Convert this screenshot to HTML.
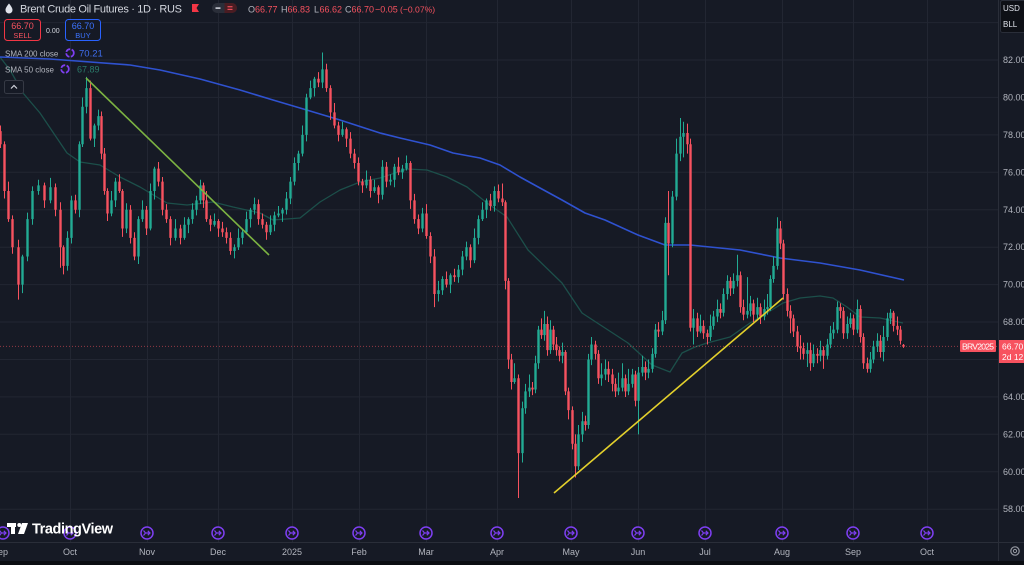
<!DOCTYPE html>
<html><head><meta charset="utf-8">
<style>
html,body{margin:0;padding:0;background:#161a25;width:1024px;height:565px;overflow:hidden}
svg{display:block}
text{font-family:"Liberation Sans",sans-serif}
</style></head>
<body>
<svg width="1024" height="565" viewBox="0 0 1024 565" xmlns="http://www.w3.org/2000/svg">
<defs>
<clipPath id="cp"><rect x="0" y="0" width="998" height="542"/></clipPath>
<g id="evi"><circle cx="0" cy="0" r="6" fill="#161a25" stroke="#7e3ff2" stroke-width="1.5"/><path d="M-3.5 -2.5 L-1.5 0 L-3.5 2.5 M-1 0 H3 M0.8 -2.2 L3 0 L0.8 2.2" fill="none" stroke="#7e3ff2" stroke-width="1.2"/></g>
</defs>
<rect x="0" y="0" width="1024" height="565" fill="#161a25"/>
<g stroke="#222632" stroke-width="1">
<line x1="0" y1="22.6" x2="998" y2="22.6"/><line x1="0" y1="60" x2="998" y2="60"/><line x1="0" y1="97.4" x2="998" y2="97.4"/><line x1="0" y1="134.9" x2="998" y2="134.9"/><line x1="0" y1="172.3" x2="998" y2="172.3"/><line x1="0" y1="209.8" x2="998" y2="209.8"/><line x1="0" y1="247.2" x2="998" y2="247.2"/><line x1="0" y1="284.6" x2="998" y2="284.6"/><line x1="0" y1="322" x2="998" y2="322"/><line x1="0" y1="359.5" x2="998" y2="359.5"/><line x1="0" y1="396.9" x2="998" y2="396.9"/><line x1="0" y1="434.3" x2="998" y2="434.3"/><line x1="0" y1="471.8" x2="998" y2="471.8"/><line x1="0" y1="509.2" x2="998" y2="509.2"/>
<line x1="70.5" y1="0" x2="70.5" y2="542"/><line x1="147.5" y1="0" x2="147.5" y2="542"/><line x1="218.5" y1="0" x2="218.5" y2="542"/><line x1="292.5" y1="0" x2="292.5" y2="542"/><line x1="359.5" y1="0" x2="359.5" y2="542"/><line x1="426.5" y1="0" x2="426.5" y2="542"/><line x1="497.5" y1="0" x2="497.5" y2="542"/><line x1="571.5" y1="0" x2="571.5" y2="542"/><line x1="638.5" y1="0" x2="638.5" y2="542"/><line x1="705.5" y1="0" x2="705.5" y2="542"/><line x1="782.5" y1="0" x2="782.5" y2="542"/><line x1="853.5" y1="0" x2="853.5" y2="542"/><line x1="927.5" y1="0" x2="927.5" y2="542"/>
</g>
<g clip-path="url(#cp)">
<polyline fill="none" stroke="#1c4f4a" stroke-width="1.3" stroke-linejoin="round" points="0,57 10,70 23,93 40,113 67,153 80,162 100,165 120,177 140,187 167,203 187,205 213,202 233,207 260,213 273,220 300,218 320,202 340,190 360,182 380,178 407,169 427,170 447,177 467,187 487,203 507,217 528,250 562,283 582,313 605,328 628,343 652,365 670,372 682,353 695,347 707,343 730,337 750,323 767,313 783,303 800,298 820,296 833,298 847,307 860,317 880,318 903,323"/>
<polyline fill="none" stroke="#2f52d0" stroke-width="1.6" stroke-linejoin="round" points="0,57 50,59 130,65 160,70 200,79 240,90 273,100 300,108 340,120 380,133 400,138 430,145 453,153 480,158 500,165 520,177 540,188 562,200 585,213 605,220 638,235 665,245 690,245 740,250 780,258 820,263 860,270 904,280"/>
<line x1="0" y1="346.4" x2="998" y2="346.4" stroke="#f7525f" stroke-opacity="0.55" stroke-width="1" stroke-dasharray="1,2"/>
<g transform="translate(0,1595.04) scale(1,-18.72)">
<path fill="#f7525f" d="M0 77.3h1v1.2h-1zM-.7 77.5h2.4v.7h-2.4zM4 74.6h1v3.05h-1zM3.3 75h2.4v2.5h-2.4zM8 73.35h1v2.15h-1zM7.3 73.5h2.4v1.5h-2.4zM12 71.65h1v2.05h-1zM11.3 72h2.4v1.5h-2.4zM18 69.2h1v3.2h-1zM17.3 70h2.4v2h-2.4zM44 74.1h1v1.35h-1zM43.3 74.5h2.4v.8h-2.4zM55 73.65h1v1.75h-1zM54.3 74h2.4v1.2h-2.4zM60 70.9h1v3.5h-1zM59.3 72h2.4v2h-2.4zM63 70.55h1v1.55h-1zM62.3 71h2.4v1h-2.4zM75 73.8h1v1h-1zM74.3 74h2.4v.5h-2.4zM90 77.7h1v3.2h-1zM89.3 77.8h2.4v2.7h-2.4zM101 76.7h1v2.55h-1zM100.3 77h2.4v2h-2.4zM104 74.8h1v2.5h-1zM103.3 75h2.4v2h-2.4zM107 73.4h1v1.75h-1zM106.3 73.8h2.4v1.2h-2.4zM119 74.9h1v1h-1zM118.3 75h2.4v.5h-2.4zM122 72.55h1v2.55h-1zM121.3 73h2.4v2h-2.4zM130 72.2h1v2.05h-1zM129.3 72.5h2.4v1.5h-2.4zM134 71.3h1v1.5h-1zM133.3 71.5h2.4v1h-2.4zM146 72.65h1v1.55h-1zM145.3 73h2.4v1h-2.4zM158 75.25h1v1.3h-1zM157.3 75.5h2.4v.7h-2.4zM162 73.7h1v2.05h-1zM161.3 74h2.4v1.5h-2.4zM166 73.3h1v1h-1zM165.3 73.5h2.4v.5h-2.4zM170 72.1h1v1.55h-1zM169.3 72.5h2.4v1h-2.4zM180 72.15h1v1.05h-1zM179.3 72.5h2.4v.5h-2.4zM203 74.1h1v1.35h-1zM202.3 74.5h2.4v.8h-2.4zM206 73.35h1v1.65h-1zM205.3 73.5h2.4v1h-2.4zM210 72.85h1v.85h-1zM209.3 73.2h2.4v.3h-2.4zM218 72.55h1v.95h-1zM217.3 73h2.4v.4h-2.4zM222 72.55h1v.8h-1zM221.3 72.8h2.4v.2h-2.4zM226 72.2h1v.85h-1zM225.3 72.5h2.4v.3h-2.4zM230 71.6h1v1.2h-1zM229.3 71.8h2.4v.7h-2.4zM258 73.2h1v1.35h-1zM257.3 73.5h2.4v.8h-2.4zM262 73h1v.8h-1zM261.3 73.2h2.4v.3h-2.4zM266 72.4h1v.95h-1zM265.3 72.8h2.4v.4h-2.4zM318 80.55h1v.8h-1zM317.3 80.8h2.4v.2h-2.4zM326 80.3h1v1.5h-1zM325.3 80.5h2.4v1h-2.4zM330 78.8h1v1.85h-1zM329.3 79.2h2.4v1.3h-2.4zM334 78.35h1v1.35h-1zM333.3 78.5h2.4v.7h-2.4zM338 77.65h1v1.05h-1zM337.3 78h2.4v.5h-2.4zM346 77.35h1v1.05h-1zM345.3 77.8h2.4v.5h-2.4zM350 76.75h1v1.4h-1zM349.3 77h2.4v.8h-2.4zM354 76.2h1v1.05h-1zM353.3 76.5h2.4v.5h-2.4zM358 75.3h1v1.5h-1zM357.3 75.5h2.4v1h-2.4zM362 74.9h1v.75h-1zM361.3 75.3h2.4v.2h-2.4zM370 74.65h1v1.15h-1zM369.3 75h2.4v.6h-2.4zM378 74.35h1v.95h-1zM377.3 74.8h2.4v.4h-2.4zM386 75.2h1v1.35h-1zM385.3 75.5h2.4v.8h-2.4zM398 75.85h1v.95h-1zM397.3 76h2.4v.3h-2.4zM410 74.05h1v2.55h-1zM409.3 74.5h2.4v2h-2.4zM414 73.25h1v1.6h-1zM413.3 73.5h2.4v1h-2.4zM418 72.7h1v1.05h-1zM417.3 73h2.4v.5h-2.4zM426 72.45h1v1.85h-1zM425.3 72.6h2.4v1.2h-2.4zM430 71.15h1v1.65h-1zM429.3 71.5h2.4v1.1h-2.4zM434 68.8h1v3.1h-1zM433.3 69.5h2.4v2h-2.4zM446 69.85h1v.85h-1zM445.3 70h2.4v.3h-2.4zM454 70.15h1v.7h-1zM453.3 70.4h2.4v.1h-2.4zM470 70.9h1v1.25h-1zM469.3 71.3h2.4v.7h-2.4zM490 73.95h1v.9h-1zM489.3 74.2h2.4v.3h-2.4zM498 74.4h1v.95h-1zM497.3 74.6h2.4v.4h-2.4zM502 74.2h1v1.2h-1zM501.3 74.4h2.4v.2h-2.4zM505 69.75h1v4.75h-1zM504.3 70.2h2.4v4.2h-2.4zM508 65.5h1v4.85h-1zM507.3 66h2.4v4.2h-2.4zM511 64.4h1v1.9h-1zM510.3 64.8h2.4v1.2h-2.4zM518 58.6h1v6.6h-1zM517.3 61h2.4v4h-2.4zM532 64.1h1v.7h-1zM531.3 64.4h2.4v.1h-2.4zM541 67.1h1v1.1h-1zM540.3 67.3h2.4v.3h-2.4zM547 66.2h1v2.1h-1zM546.3 66.5h2.4v1.4h-2.4zM553 66.5h1v1.3h-1zM552.3 66.8h2.4v.8h-2.4zM556 66.2h1v1h-1zM555.3 66.5h2.4v.3h-2.4zM559 65.9h1v.8h-1zM558.3 66.2h2.4v.3h-2.4zM565 64.1h1v2.4h-1zM564.3 64.3h2.4v2.1h-2.4zM568 62.8h1v1.7h-1zM567.3 63.3h2.4v1h-2.4zM572 61.2h1v2.3h-1zM571.3 61.5h2.4v1.8h-2.4zM575 59.7h1v2.3h-1zM574.3 60.3h2.4v1.2h-2.4zM585 62.2h1v.8h-1zM584.3 62.5h2.4v.2h-2.4zM595 66h1v1h-1zM594.3 66.3h2.4v.5h-2.4zM598 64.7h1v1.8h-1zM597.3 65h2.4v1.3h-2.4zM608 64.8h1v1.1h-1zM607.3 65.2h2.4v.3h-2.4zM612 64.3h1v1.2h-1zM611.3 64.7h2.4v.5h-2.4zM615 64h1v1h-1zM614.3 64.3h2.4v.4h-2.4zM625 64h1v1.2h-1zM624.3 64.3h2.4v.7h-2.4zM635 63.5h1v1.9h-1zM634.3 63.8h2.4v1.4h-2.4zM645 64.9h1v1h-1zM644.3 65.3h2.4v.3h-2.4zM658 67.2h1v.8h-1zM657.3 67.5h2.4v.1h-2.4zM668 70.5h1v4.5h-1zM667.3 72.2h2.4v1.1h-2.4zM687 77h1v1.6h-1zM686.3 77.5h2.4v.6h-2.4zM690 67.5h1v10.3h-1zM689.3 67.7h2.4v9.8h-2.4zM697 67.2h1v1.3h-1zM696.3 67.5h2.4v.7h-2.4zM703 67.1h1v1h-1zM702.3 67.4h2.4v.4h-2.4zM707 66.8h1v.8h-1zM706.3 67.2h2.4v.2h-2.4zM720 68.2h1v.8h-1zM719.3 68.5h2.4v.2h-2.4zM730 69.4h1v1h-1zM729.3 69.8h2.4v.4h-2.4zM740 68.5h1v2.2h-1zM739.3 68.8h2.4v1.7h-2.4zM743 68.1h1v1.1h-1zM742.3 68.4h2.4v.4h-2.4zM753 68h1v1.2h-1zM752.3 68.4h2.4v.6h-2.4zM760 67.9h1v1.1h-1zM759.3 68.3h2.4v.5h-2.4zM780 71.9h1v1.5h-1zM779.3 72.2h2.4v.8h-2.4zM783 69.2h1v3.2h-1zM782.3 69.5h2.4v2.7h-2.4zM787 68.3h1v1.5h-1zM786.3 68.6h2.4v.9h-2.4zM790 67.4h1v1.5h-1zM789.3 68.2h2.4v.4h-2.4zM793 67.2h1v1.2h-1zM792.3 67.5h2.4v.7h-2.4zM797 66.4h1v1.4h-1zM796.3 66.7h2.4v.8h-2.4zM800 66h1v1.3h-1zM799.3 66.6h2.4v.1h-2.4zM803 66h1v.9h-1zM802.3 66.3h2.4v.3h-2.4zM810 65.4h1v1.5h-1zM809.3 65.8h2.4v.7h-2.4zM817 65.8h1v.8h-1zM816.3 66.2h2.4v.1h-2.4zM823 65.5h1v1.2h-1zM822.3 66.2h2.4v.3h-2.4zM840 68.2h1v.8h-1zM839.3 68.6h2.4v.2h-2.4zM843 67.1h1v1.7h-1zM842.3 67.4h2.4v1.2h-2.4zM853 67.3h1v1.1h-1zM852.3 67.6h2.4v.6h-2.4zM860 66.9h1v2h-1zM859.3 67.2h2.4v1.5h-2.4zM863 65.5h1v1.9h-1zM862.3 65.8h2.4v1.4h-2.4zM867 65.3h1v.8h-1zM866.3 65.5h2.4v.3h-2.4zM880 66.1h1v1.2h-1zM879.3 66.4h2.4v.6h-2.4zM893 67.5h1v1.1h-1zM892.3 67.8h2.4v.7h-2.4zM897 67.3h1v1h-1zM896.3 67.6h2.4v.2h-2.4zM900 66.8h1v1h-1zM899.3 67h2.4v.6h-2.4zM903 66.62h1v.21h-1zM902.3 66.68h2.4v.1h-2.4z"/>
<path fill="#22ab94" d="M22 69.55h1v2.05h-1zM21.3 70h2.4v1.5h-2.4zM27 71.25h1v2.6h-1zM26.3 71.5h2.4v2h-2.4zM32 73.2h1v2.05h-1zM31.3 73.5h2.4v1.5h-2.4zM38 74.8h1v.8h-1zM37.3 75h2.4v.3h-2.4zM50 74.35h1v1.35h-1zM49.3 74.5h2.4v.7h-2.4zM67 70.75h1v2.1h-1zM66.3 71h2.4v1.5h-2.4zM71 72.2h1v2.55h-1zM70.3 72.5h2.4v2h-2.4zM79 73.6h1v4.05h-1zM78.3 74h2.4v3.5h-2.4zM82 77.35h1v2.65h-1zM81.3 77.5h2.4v2h-2.4zM86 79.15h1v1.95h-1zM85.3 79.5h2.4v1h-2.4zM94 77.35h1v1.25h-1zM93.3 77.8h2.4v.7h-2.4zM98 78.25h1v1.1h-1zM97.3 78.5h2.4v.5h-2.4zM111 73.65h1v1.35h-1zM110.3 73.8h2.4v.7h-2.4zM115 74.15h1v1.55h-1zM114.3 74.5h2.4v1h-2.4zM126 72.75h1v1.6h-1zM125.3 73h2.4v1h-2.4zM138 71.1h1v2.55h-1zM137.3 71.5h2.4v2h-2.4zM142 73.35h1v1.15h-1zM141.3 73.5h2.4v.5h-2.4zM150 72.9h1v2.5h-1zM149.3 73h2.4v2h-2.4zM154 74.55h1v1.75h-1zM153.3 75h2.4v1.2h-2.4zM175 72.35h1v1.15h-1zM174.3 72.5h2.4v.5h-2.4zM184 72.4h1v1.2h-1zM183.3 72.5h2.4v.7h-2.4zM188 72.75h1v.85h-1zM187.3 73.2h2.4v.3h-2.4zM192 73.25h1v1.1h-1zM191.3 73.5h2.4v.5h-2.4zM196 73.7h1v1.05h-1zM195.3 74h2.4v.5h-2.4zM200 74.3h1v1.3h-1zM199.3 74.5h2.4v.8h-2.4zM214 73.1h1v.7h-1zM213.3 73.2h2.4v.2h-2.4zM234 71.4h1v.75h-1zM233.3 71.8h2.4v.2h-2.4zM238 71.85h1v1.15h-1zM237.3 72h2.4v.5h-2.4zM242 72.15h1v.85h-1zM241.3 72.5h2.4v.3h-2.4zM246 72.7h1v1.2h-1zM245.3 72.8h2.4v.7h-2.4zM250 73.05h1v1.05h-1zM249.3 73.5h2.4v.5h-2.4zM254 73.75h1v.9h-1zM253.3 74h2.4v.3h-2.4zM270 72.65h1v1.05h-1zM269.3 72.8h2.4v.4h-2.4zM274 72.85h1v1.05h-1zM273.3 73.2h2.4v.5h-2.4zM278 73.6h1v.6h-1zM277.3 73.7h2.4v.1h-2.4zM282 73.35h1v.75h-1zM281.3 73.8h2.4v.2h-2.4zM286 73.75h1v1.2h-1zM285.3 74h2.4v.6h-2.4zM290 74.3h1v1.45h-1zM289.3 74.6h2.4v.9h-2.4zM294 75.3h1v1.5h-1zM293.3 75.5h2.4v1h-2.4zM298 76.1h1v1.05h-1zM297.3 76.5h2.4v.5h-2.4zM302 76.85h1v1.65h-1zM301.3 77h2.4v1h-2.4zM306 77.65h1v2.55h-1zM305.3 78h2.4v2h-2.4zM310 79.9h1v1h-1zM309.3 80h2.4v.5h-2.4zM314 80.05h1v1.05h-1zM313.3 80.5h2.4v.5h-2.4zM322 80.5h1v1.9h-1zM321.3 80.8h2.4v.7h-2.4zM342 77.9h1v.8h-1zM341.3 78h2.4v.3h-2.4zM366 75.15h1v.95h-1zM365.3 75.3h2.4v.3h-2.4zM374 74.9h1v.7h-1zM373.3 75h2.4v.2h-2.4zM382 74.55h1v2.1h-1zM381.3 74.8h2.4v1.5h-2.4zM390 75.3h1v.6h-1zM389.3 75.5h2.4v.1h-2.4zM394 75.2h1v1.25h-1zM393.3 75.6h2.4v.7h-2.4zM402 75.65h1v.75h-1zM401.3 76h2.4v.2h-2.4zM406 76.1h1v.8h-1zM405.3 76.2h2.4v.3h-2.4zM422 72.8h1v1.3h-1zM421.3 73h2.4v.8h-2.4zM438 69.1h1v1.1h-1zM437.3 69.5h2.4v.2h-2.4zM442 69.45h1v1h-1zM441.3 69.7h2.4v.6h-2.4zM450 69.55h1v1.05h-1zM449.3 70h2.4v.5h-2.4zM458 70.1h1v.95h-1zM457.3 70.4h2.4v.4h-2.4zM462 70.5h1v1.3h-1zM461.3 70.8h2.4v.7h-2.4zM466 71.3h1v1h-1zM465.3 71.5h2.4v.5h-2.4zM474 71.15h1v1.85h-1zM473.3 71.3h2.4v1.2h-2.4zM478 72.15h1v1.55h-1zM477.3 72.5h2.4v1h-2.4zM482 73.4h1v1h-1zM481.3 73.5h2.4v.5h-2.4zM486 73.55h1v1.05h-1zM485.3 74h2.4v.5h-2.4zM494 73.9h1v1.35h-1zM493.3 74.2h2.4v.8h-2.4zM514 64.7h1v1.1h-1zM513.3 64.8h2.4v.2h-2.4zM522 60.5h1v3.25h-1zM521.3 61h2.4v2.4h-2.4zM525 63.1h1v1.6h-1zM524.3 63.4h2.4v.9h-2.4zM529 64h1v1.2h-1zM528.3 64.3h2.4v.2h-2.4zM535 64.2h1v2h-1zM534.3 64.4h2.4v1.4h-2.4zM538 65.5h1v2.3h-1zM537.3 65.8h2.4v1.8h-2.4zM544 67h1v1.6h-1zM543.3 67.3h2.4v.6h-2.4zM550 66.3h1v1.8h-1zM549.3 66.5h2.4v1.1h-2.4zM562 65.8h1v1.1h-1zM561.3 66.2h2.4v.2h-2.4zM578 60.1h1v2.4h-1zM577.3 60.3h2.4v1.7h-2.4zM582 61.6h1v1.6h-1zM581.3 62h2.4v.7h-2.4zM588 62.3h1v4h-1zM587.3 62.5h2.4v3.5h-2.4zM591 65.7h1v1.5h-1zM590.3 66h2.4v.8h-2.4zM601 64.6h1v1.2h-1zM600.3 65h2.4v.2h-2.4zM605 64.9h1v1.1h-1zM604.3 65.2h2.4v.3h-2.4zM618 64.1h1v1.2h-1zM617.3 64.3h2.4v.2h-2.4zM622 64.3h1v1.5h-1zM621.3 64.5h2.4v.5h-2.4zM628 64.1h1v1.4h-1zM627.3 64.3h2.4v.4h-2.4zM632 64.5h1v1h-1zM631.3 64.7h2.4v.5h-2.4zM638 62h1v3.6h-1zM637.3 63.8h2.4v1.5h-2.4zM642 65.1h1v1.1h-1zM641.3 65.3h2.4v.3h-2.4zM648 65h1v1h-1zM647.3 65.3h2.4v.2h-2.4zM652 65.3h1v1.3h-1zM651.3 65.5h2.4v.8h-2.4zM655 66.1h1v1.8h-1zM654.3 66.3h2.4v1.3h-2.4zM662 67.3h1v1.3h-1zM661.3 67.5h2.4v.6h-2.4zM665 67.9h1v5.7h-1zM664.3 68.1h2.4v5.2h-2.4zM672 72h1v3h-1zM671.3 72.2h2.4v2.5h-2.4zM676 74.5h1v3.3h-1zM675.3 74.7h2.4v2.3h-2.4zM680 76.6h1v2.3h-1zM679.3 77h2.4v.9h-2.4zM683 76.8h1v1.9h-1zM682.3 77.9h2.4v.2h-2.4zM693 66.8h1v1.9h-1zM692.3 67.7h2.4v.5h-2.4zM700 67.4h1v1h-1zM699.3 67.5h2.4v.3h-2.4zM710 67h1v1.4h-1zM709.3 67.2h2.4v.6h-2.4zM713 67.6h1v1h-1zM712.3 67.8h2.4v.5h-2.4zM717 68h1v1.2h-1zM716.3 68.3h2.4v.4h-2.4zM723 68.3h1v1.5h-1zM722.3 68.5h2.4v1h-2.4zM727 69.2h1v1.3h-1zM726.3 69.5h2.4v.7h-2.4zM733 69.5h1v1.1h-1zM732.3 69.8h2.4v.4h-2.4zM737 69.9h1v1.7h-1zM736.3 70.2h2.4v.3h-2.4zM747 68.2h1v2.2h-1zM746.3 68.4h2.4v.2h-2.4zM750 68.3h1v1.1h-1zM749.3 68.6h2.4v.4h-2.4zM757 68.2h1v1.1h-1zM756.3 68.4h2.4v.4h-2.4zM764 68.1h1v1.1h-1zM763.3 68.3h2.4v.4h-2.4zM767 68.4h1v1.1h-1zM766.3 68.7h2.4v.1h-2.4zM770 68.6h1v1.9h-1zM769.3 68.8h2.4v1.5h-2.4zM773 70.1h1v1.4h-1zM772.3 70.3h2.4v.7h-2.4zM777 70.8h1v2.8h-1zM776.3 71h2.4v2h-2.4zM807 65.6h1v1.3h-1zM806.3 66.3h2.4v.2h-2.4zM813 65.6h1v1.2h-1zM812.3 65.8h2.4v.5h-2.4zM820 65.9h1v1.1h-1zM819.3 66.2h2.4v.3h-2.4zM827 66h1v1.1h-1zM826.3 66.2h2.4v.6h-2.4zM830 66.6h1v1.2h-1zM829.3 66.8h2.4v.6h-2.4zM833 67.1h1v.9h-1zM832.3 67.4h2.4v.2h-2.4zM837 67.4h1v1.7h-1zM836.3 67.6h2.4v1.2h-2.4zM847 67.1h1v1.2h-1zM846.3 67.4h2.4v.5h-2.4zM850 67.7h1v.8h-1zM849.3 67.9h2.4v.3h-2.4zM857 67.4h1v1.8h-1zM856.3 67.6h2.4v1.1h-2.4zM870 65.3h1v1.1h-1zM869.3 65.5h2.4v.5h-2.4zM873 65.8h1v1.2h-1zM872.3 66h2.4v.7h-2.4zM877 66.4h1v1h-1zM876.3 66.7h2.4v.3h-2.4zM883 65.9h1v1.9h-1zM882.3 66.4h2.4v.8h-2.4zM887 67h1v1.5h-1zM886.3 67.2h2.4v1h-2.4zM890 67.9h1v.8h-1zM889.3 68.2h2.4v.3h-2.4z"/>
</g>
<line x1="86" y1="78" x2="269" y2="255" stroke="#7cb342" stroke-width="1.6"/>
<line x1="554" y1="493" x2="783" y2="298" stroke="#e3d02c" stroke-width="1.6"/>
</g>
<rect x="999" y="0" width="25" height="561" fill="#161a25"/>
<line x1="998.5" y1="0" x2="998.5" y2="561" stroke="#2a2e39"/>
<line x1="0" y1="542.5" x2="1024" y2="542.5" stroke="#2a2e39"/>
<rect x="0" y="561" width="1024" height="4" fill="#0b0d12"/>
<g font-size="9" fill="#b2b5be">
<text x="1003" y="63">82.00</text><text x="1003" y="100.4">80.00</text><text x="1003" y="137.9">78.00</text><text x="1003" y="175.3">76.00</text><text x="1003" y="212.8">74.00</text><text x="1003" y="250.2">72.00</text><text x="1003" y="287.6">70.00</text><text x="1003" y="325">68.00</text><text x="1003" y="399.9">64.00</text><text x="1003" y="437.3">62.00</text><text x="1003" y="474.8">60.00</text><text x="1003" y="512.2">58.00</text>
</g>
<g font-size="9" fill="#b2b5be" text-anchor="middle">
<text x="3" y="555">ep</text><text x="70" y="555">Oct</text><text x="147" y="555">Nov</text><text x="218" y="555">Dec</text><text x="292" y="555">2025</text><text x="359" y="555">Feb</text><text x="426" y="555">Mar</text><text x="497" y="555">Apr</text><text x="571" y="555">May</text><text x="638" y="555">Jun</text><text x="705" y="555">Jul</text><text x="782" y="555">Aug</text><text x="853" y="555">Sep</text><text x="927" y="555">Oct</text>
</g>
<use href="#evi" x="3" y="533"/><use href="#evi" x="70" y="533"/><use href="#evi" x="147" y="533"/><use href="#evi" x="218" y="533"/><use href="#evi" x="292" y="533"/><use href="#evi" x="359" y="533"/><use href="#evi" x="426" y="533"/><use href="#evi" x="497" y="533"/><use href="#evi" x="571" y="533"/><use href="#evi" x="638" y="533"/><use href="#evi" x="705" y="533"/><use href="#evi" x="782" y="533"/><use href="#evi" x="853" y="533"/><use href="#evi" x="927" y="533"/>
<circle cx="1015" cy="551" r="4.2" fill="none" stroke="#9598a1" stroke-width="1.2"/>
<circle cx="1015" cy="551" r="1.6" fill="none" stroke="#9598a1" stroke-width="1"/>
<rect x="1000.5" y="0.5" width="26" height="32" rx="2" fill="#0e1016" stroke="#2a2e39"/>
<text x="1003" y="11" font-size="8" fill="#e0e3eb">USD</text>
<text x="1003" y="27" font-size="8" fill="#e0e3eb">BLL</text>
<rect x="960" y="340" width="36" height="12" rx="1" fill="#f7525f"/>
<text x="962" y="349.5" font-size="8.5" fill="#fff" textLength="32">BRV2025</text>
<rect x="999" y="340" width="25" height="23" fill="#f7525f"/>
<text x="1002" y="349.5" font-size="8.5" fill="#fff">66.70</text>
<text x="1002" y="360" font-size="8.5" fill="#fff">2d 12</text>
<path d="M9 3.5 C11 6 12.5 8 12.5 10 A3.5 3.5 0 0 1 5.5 10 C5.5 8 7 6 9 3.5Z" fill="#e0e3eb"/>
<text x="20" y="12.5" font-size="11" fill="#d1d4dc" textLength="162">Brent Crude Oil Futures · 1D · RUS</text>
<path d="M192 4 H199 L196.5 8 L199 12 H192 Z" fill="#f23645"/>
<rect x="212" y="3" width="25" height="10" rx="5" fill="#2a2e39"/>
<path d="M224.5 3 H232 A5 5 0 0 1 232 13 H224.5Z" fill="#4a1c22"/>
<rect x="215.5" y="7.4" width="5" height="1.4" fill="#e0e3eb"/>
<rect x="227.5" y="6.2" width="5" height="1.1" fill="#f7525f"/>
<rect x="227.5" y="8.8" width="5" height="1.1" fill="#f7525f"/>
<g font-size="9">
<text x="248" y="12.5" fill="#b2b5be">O</text><text x="255" y="12.5" fill="#f7525f">66.77</text>
<text x="281" y="12.5" fill="#b2b5be">H</text><text x="287.5" y="12.5" fill="#f7525f">66.83</text>
<text x="314" y="12.5" fill="#b2b5be">L</text><text x="319.5" y="12.5" fill="#f7525f">66.62</text>
<text x="345" y="12.5" fill="#b2b5be">C</text><text x="351.5" y="12.5" fill="#f7525f">66.70</text>
<text x="375" y="12.5" fill="#f7525f">−0.05</text>
<text x="400" y="12.5" fill="#f7525f" font-size="8.6">(−0.07%)</text>
</g>
<rect x="4.5" y="19.5" width="36" height="21" rx="3" fill="#161a25" stroke="#f23645"/>
<text x="22.5" y="29" font-size="9" fill="#f7525f" text-anchor="middle">66.70</text>
<text x="22.5" y="38" font-size="7.5" fill="#f7525f" text-anchor="middle">SELL</text>
<text x="46" y="33" font-size="7" fill="#d1d4dc">0.00</text>
<rect x="65.5" y="19.5" width="35" height="21" rx="3" fill="#161a25" stroke="#2962ff"/>
<text x="83" y="29" font-size="9" fill="#3c73ff" text-anchor="middle">66.70</text>
<text x="83" y="38" font-size="7.5" fill="#3c73ff" text-anchor="middle">BUY</text>
<text x="5" y="56.5" font-size="8" fill="#b2b5be">SMA 200 close</text>
<circle cx="70" cy="53" r="3.8" fill="none" stroke="#7e3ff2" stroke-width="1.8" stroke-dasharray="5,1.5"/>
<text x="79" y="56.5" font-size="9.5" fill="#3f6ef0">70.21</text>
<text x="5" y="72.5" font-size="8" fill="#b2b5be">SMA 50 close</text>
<circle cx="65" cy="69" r="3.8" fill="none" stroke="#7e3ff2" stroke-width="1.8" stroke-dasharray="5,1.5"/>
<text x="77" y="72.5" font-size="9" fill="#2a7a6a">67.89</text>
<rect x="4.5" y="80.5" width="19" height="13" rx="2" fill="#161a25" stroke="#363a45"/>
<path d="M11 88.5 L14 85.5 L17 88.5" fill="none" stroke="#d1d4dc" stroke-width="1.2"/>
<g fill="#ffffff">
<rect x="7" y="523" width="9" height="4"/>
<rect x="11" y="523" width="4" height="11"/>
<circle cx="19.3" cy="525" r="2"/>
<path d="M22 523 H28 L24 534 H18 Z"/>
</g>
<text x="32" y="533.5" font-size="14.5" font-weight="bold" fill="#ffffff" textLength="81">TradingView</text>
</svg>
</body></html>
